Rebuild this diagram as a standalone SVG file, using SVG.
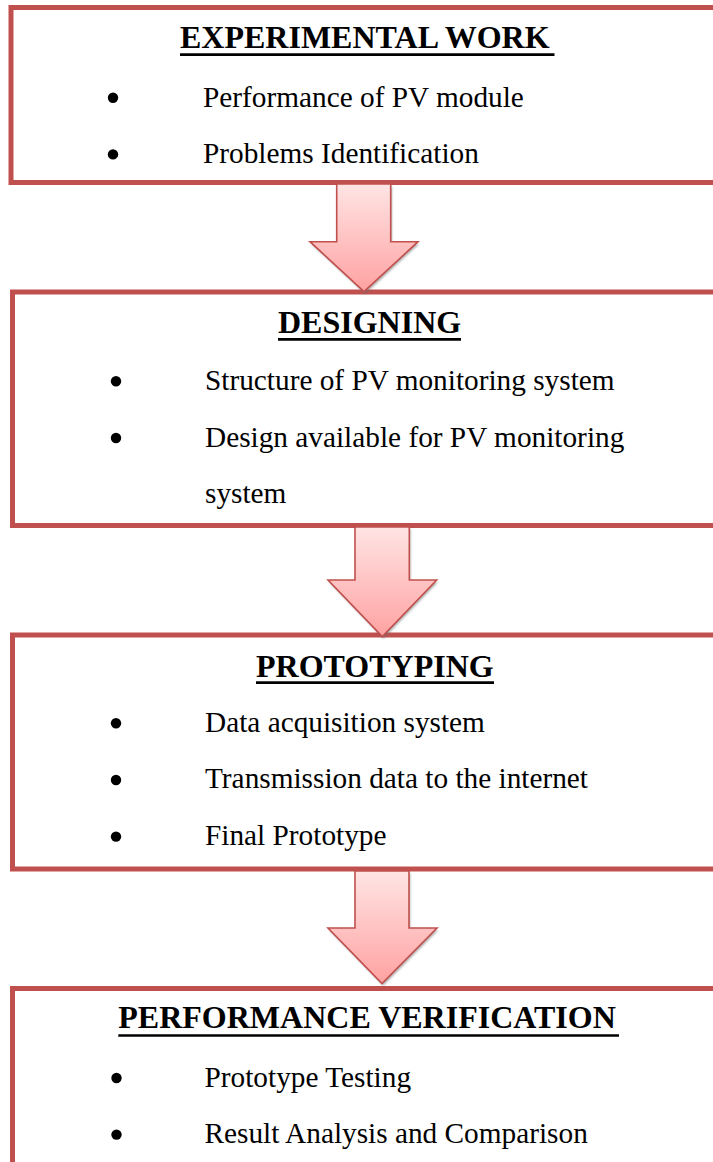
<svg xmlns="http://www.w3.org/2000/svg" width="713" height="1162" viewBox="0 0 713 1162">
  <style>
    .box { fill: #ffffff; stroke: #C0504D; stroke-width: 5; }
    .head { font-family: "Liberation Serif", "Times New Roman", serif; font-size: 32px; font-weight: bold; fill: #000000; }
    .body { font-family: "Liberation Serif", "Times New Roman", serif; font-size: 29.3px; fill: #000000; }
    .uline { stroke: #000000; stroke-width: 2.7; }
    .dot { fill: #000000; }
    .arrow { fill: url(#arrowFill); stroke: #C0504D; stroke-width: 1.6; stroke-linejoin: miter; }
    .shadow { fill: #6f6f6f; opacity: 0.55; filter: url(#soft); }
  </style>
  <defs>
    <linearGradient id="arrowFill" x1="0" y1="0" x2="0" y2="1">
      <stop offset="0" stop-color="#FFE4E4"/>
      <stop offset="1" stop-color="#FFA2A2"/>
    </linearGradient>
    <filter id="soft" x="-10%" y="-10%" width="120%" height="120%">
      <feGaussianBlur stdDeviation="0.8"/>
    </filter>
  </defs>

  <rect width="713" height="1162" fill="#ffffff"/>

  <!-- Stage 1 -->
  <g id="experimental-work">
    <rect class="box" x="11" y="7.5" width="740" height="175"/>
    <text class="head" x="180" y="48.3">EXPERIMENTAL WORK</text>
    <line class="uline" x1="180" y1="54.7" x2="554.5" y2="54.7"/>
    <circle class="dot" cx="113" cy="97.8" r="5.2"/>
    <text class="body" x="203" y="106.5">Performance of PV module</text>
    <circle class="dot" cx="113" cy="154.4" r="5.2"/>
    <text class="body" x="203" y="163">Problems Identification</text>
  </g>

  <!-- Stage 2 -->
  <g id="designing">
    <rect class="box" x="12.5" y="292" width="740" height="233.5"/>
    <text class="head" x="278" y="333.3">DESIGNING</text>
    <line class="uline" x1="278" y1="339.3" x2="461" y2="339.3"/>
    <circle class="dot" cx="116" cy="381.3" r="5.2"/>
    <text class="body" x="205" y="390">Structure of PV monitoring system</text>
    <circle class="dot" cx="116" cy="438" r="5.2"/>
    <text class="body" x="205" y="446.7">Design available for PV monitoring</text>
    <text class="body" x="205" y="503.3">system</text>
  </g>

  <!-- Stage 3 -->
  <g id="prototyping">
    <rect class="box" x="12.5" y="635" width="740" height="234"/>
    <text class="head" x="256" y="676.7">PROTOTYPING</text>
    <line class="uline" x1="256" y1="682.6" x2="494" y2="682.6"/>
    <circle class="dot" cx="116" cy="723.3" r="5.2"/>
    <text class="body" x="205" y="731.7">Data acquisition system</text>
    <circle class="dot" cx="116" cy="780" r="5.2"/>
    <text class="body" x="205" y="788.3">Transmission data to the internet</text>
    <circle class="dot" cx="116" cy="836.6" r="5.2"/>
    <text class="body" x="205" y="845">Final Prototype</text>
  </g>

  <!-- Stage 4 -->
  <g id="performance-verification">
    <rect class="box" x="12.5" y="988.5" width="740" height="250"/>
    <text class="head" x="118.3" y="1028.3">PERFORMANCE VERIFICATION</text>
    <line class="uline" x1="118.3" y1="1035.5" x2="619" y2="1035.5"/>
    <circle class="dot" cx="116.5" cy="1078" r="5.2"/>
    <text class="body" x="204.5" y="1086.7">Prototype Testing</text>
    <circle class="dot" cx="116.5" cy="1134.6" r="5.2"/>
    <text class="body" x="204.5" y="1143.3">Result Analysis and Comparison</text>
  </g>

  <!-- Block arrows between stages -->
  <g id="connectors">
    <path class="shadow" transform="translate(1.2,2.2)" d="M336.7,184 H390.7 V241.7 H418 L364,291.7 L310,241.7 H336.7 Z"/>
    <path class="arrow" d="M336.7,184 H390.7 V241.7 H418 L364,291.7 L310,241.7 H336.7 Z"/>

    <path class="shadow" transform="translate(1.2,2.2)" d="M355,527 H409.3 V580 H436.7 L382.3,636.5 L328,580 H355 Z"/>
    <path class="arrow" d="M355,527 H409.3 V580 H436.7 L382.3,636.5 L328,580 H355 Z"/>

    <path class="shadow" transform="translate(1.2,2.2)" d="M355,871 H409 V928 H437 L382,983.5 L328,928 H355 Z"/>
    <path class="arrow" d="M355,871 H409 V928 H437 L382,983.5 L328,928 H355 Z"/>
  </g>
</svg>
